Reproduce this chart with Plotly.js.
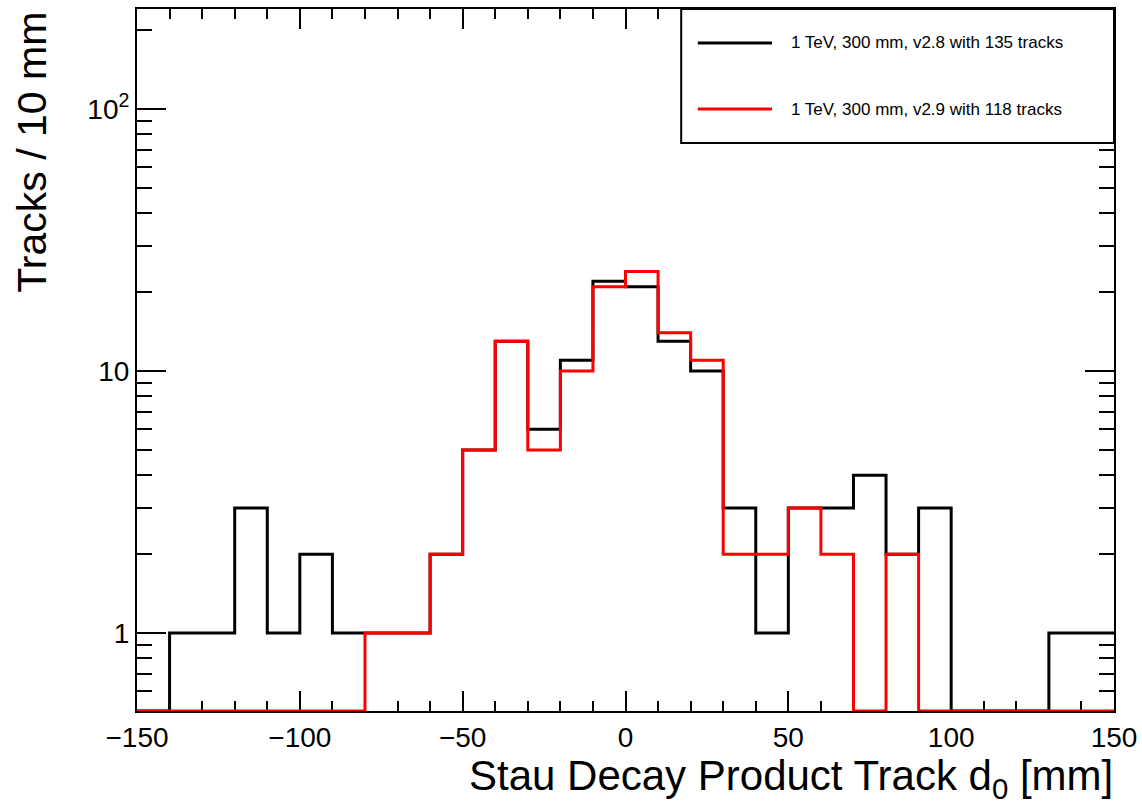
<!DOCTYPE html>
<html>
<head>
<meta charset="utf-8">
<script src="https://cdn.plot.ly/plotly-3.0.1.min.js"></script>
<style>html,body{margin:0;padding:0;background:#fff;}#chart{width:1142px;height:809px;}</style>
</head>
<body>
<div id="chart"></div>
<script>
// Bin edges of the d0 histogram [mm]
const binEdges = [-150,-140,-130,-120,-110,-100,-90,-80,-70,-60,-50,-40,-30,-20,-10,0,10,20,30,40,50,60,70,80,90,100,110,120,130,140,150];
// Track counts per 10 mm bin
const countsV28 = [0,1,1,3,1,2,1,1,1,2,5,13,6,11,22,21,13,10,3,1,3,3,4,2,3,0,0,0,1,1];
const countsV29 = [0,0,0,0,0,0,0,1,1,2,5,13,5,10,21,24,14,11,2,2,3,2,0,2,0,0,0,0,0,0];
const seriesNames = ["1 TeV, 300 mm, v2.8 with 135 tracks", "1 TeV, 300 mm, v2.9 with 118 tracks"];
const seriesColors = ["#000000", "#ff0000"];
const yTickVals = [1, 10, 100];
const yTickText = ["1", "10", "10<sup>2</sup>"];
const yMinorVals = [0.6,0.7,0.8,0.9,2,3,4,5,6,7,8,9,20,30,40,50,60,70,80,90,200];
const xLabel = "Stau Decay Product Track d<sub>0</sub> [mm]";
const yLabel = "Tracks / 10 mm";

const yMin = 0.504, yMax = 241;
const FONT = "Liberation Sans, Arial, sans-serif";

function histTrace(counts, name, color) {
  // zero bins are drawn on the frame bottom, as in ROOT
  const ys = counts.map(v => Math.max(v, yMin));
  ys.push(ys[ys.length - 1]);
  return {
    x: binEdges, y: ys, type: "scatter", mode: "lines", name: name,
    line: {shape: "hv", color: color, width: 3},
    hoverinfo: "skip", showlegend: false
  };
}

const traces = [
  histTrace(countsV28, seriesNames[0], seriesColors[0]),
  histTrace(countsV29, seriesNames[1], seriesColors[1])
];

const axisCommon = {
  showline: true, linecolor: "#000", linewidth: 2, mirror: "allticks",
  ticks: "inside", tickcolor: "#000", tickwidth: 2,
  showgrid: false, zeroline: false, layer: "below traces",
  tickfont: {family: FONT, size: 28, color: "#000"}
};

const legX0 = 0.557, legX1 = 1.0, legY0 = 0.809, legY1 = 1.0;
const legRows = [0.9516, 0.8575];

const shapes = [
  {type: "rect", xref: "paper", yref: "paper", x0: legX0, x1: legX1, y0: legY0, y1: legY1,
   line: {color: "#000", width: 2}, fillcolor: "#fff", layer: "above"}
];
const annotations = [];
seriesNames.forEach((n, i) => {
  shapes.push({type: "line", xref: "paper", yref: "paper", x0: 0.574, x1: 0.650, y0: legRows[i], y1: legRows[i],
    line: {color: seriesColors[i], width: 3}, layer: "above"});
  annotations.push({xref: "paper", yref: "paper", x: 0.667, y: legRows[i], xanchor: "left", yanchor: "middle",
    text: n, showarrow: false, font: {family: FONT, size: 17, color: "#000"}});
});
annotations.push({xref: "paper", yref: "paper", x: 1.0, y: -0.057, xanchor: "right", yanchor: "top",
  borderpad: 0, text: xLabel, showarrow: false, font: {family: FONT, size: 42, color: "#000"}});
annotations.push({xref: "paper", yref: "paper", x: -0.107, y: 0.796, xanchor: "center", yanchor: "middle",
  textangle: -90, text: yLabel, showarrow: false, font: {family: FONT, size: 41, color: "#000"}});

const layout = {
  width: 1142, height: 809,
  margin: {l: 137, r: 28, t: 9, b: 98},
  paper_bgcolor: "#fff", plot_bgcolor: "#fff",
  showlegend: false,
  xaxis: Object.assign({}, axisCommon, {
    range: [-150, 150], dtick: 50, tick0: 0, ticklen: 20,
    tickformat: "d",
    minor: {dtick: 10, tick0: 0, ticks: "inside", ticklen: 10, tickcolor: "#000", tickwidth: 2, showgrid: false}
  }),
  yaxis: Object.assign({}, axisCommon, {
    type: "log", range: [Math.log10(yMin), Math.log10(yMax)],
    tickmode: "array", tickvals: yTickVals, ticktext: yTickText, ticklen: 29,
    minor: {tickmode: "array", tickvals: yMinorVals, ticks: "inside", ticklen: 15, tickcolor: "#000", tickwidth: 2, showgrid: false}
  }),
  shapes: shapes,
  annotations: annotations
};

Plotly.newPlot("chart", traces, layout, {displayModeBar: false, staticPlot: true});
</script>
</body>
</html>
